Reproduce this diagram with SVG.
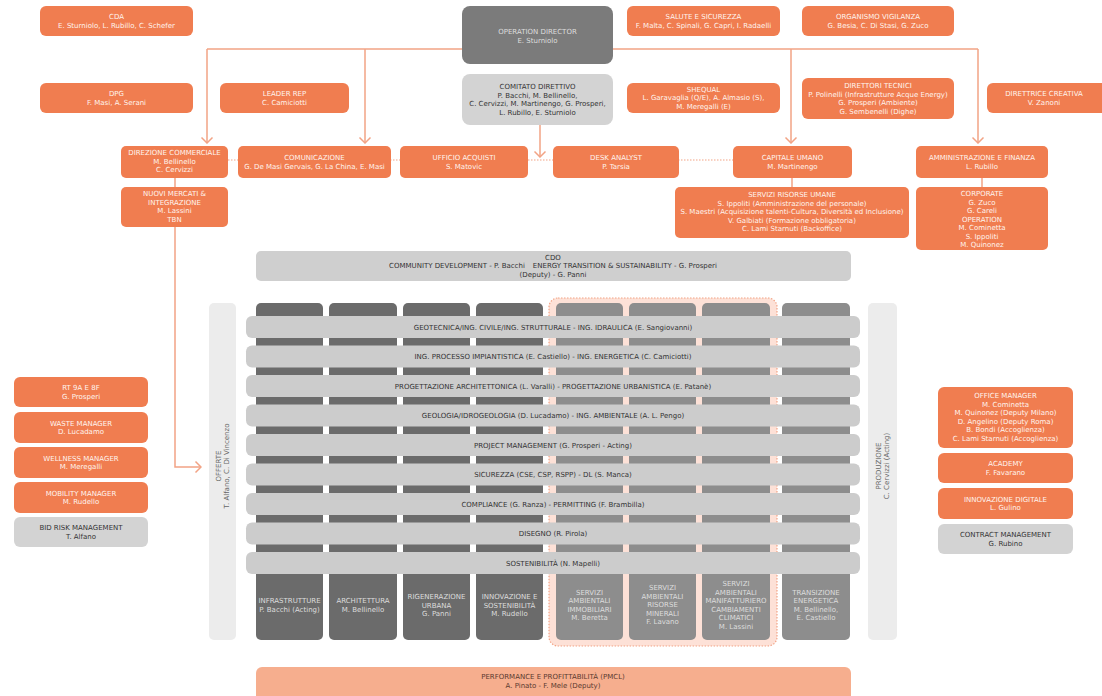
<svg xmlns="http://www.w3.org/2000/svg" width="1102" height="696" viewBox="0 0 1102 696">
<style>
.o{fill:#f07d50}
.g{fill:#d3d3d3}
.od{fill:#7b7b7b}
.bar{fill:#cccccc}
.cd{fill:#6b6b6b}
.cm{fill:#8d8d8d}
.side{fill:#ececec}
text{font-family:"DejaVu Sans",Verdana,sans-serif;font-size:7px;text-anchor:middle}
.w{fill:#fff4ee}
.k{fill:#333333}
.lg{fill:#dddddd}
.sd{fill:#666666}
.pm{fill:#5a3a2e}
.ln{stroke:#f2a385;stroke-width:1.5;fill:none}
.dot{stroke:#f2a385;stroke-width:1.2;stroke-dasharray:1.5 1.5;fill:none}
</style>
<defs>
<marker id="ah" viewBox="-7 -7 8 14" markerWidth="8" markerHeight="14" refX="0" refY="0" orient="auto" markerUnits="userSpaceOnUse">
<path d="M-5.5,-5.5 L0,0 L-5.5,5.5" fill="none" stroke="#f2a385" stroke-width="1.5"/>
</marker>
</defs>
<rect width="1102" height="696" fill="#ffffff"/>

<g id="connectors">
<path class="ln" d="M207,49 H978"/>
<path class="ln" d="M207,49 V143" marker-end="url(#ah)"/>
<path class="ln" d="M365,49 V143" marker-end="url(#ah)"/>
<path class="ln" d="M791,49 V143" marker-end="url(#ah)"/>
<path class="ln" d="M978,49 V143" marker-end="url(#ah)"/>
<path class="ln" d="M540,125 V157" marker-end="url(#ah)"/>
<path class="dot" d="M228,160 H733"/>
<path class="ln" d="M175,178 V467 H201" marker-end="url(#ah)"/>
<path class="ln" d="M792,178 V187"/>
<path class="ln" d="M982,178 V187"/>
</g>

<g id="cda"><rect class="o" x="40" y="6" width="153" height="30" rx="6"/><text class="w" x="116.5" y="19">CDA</text><text class="w" x="116.5" y="27.5">E. Sturniolo, L. Rubillo, C. Schefer</text></g>
<g id="operation-director"><rect class="od" x="462" y="6" width="151" height="58" rx="8"/><text class="lg" x="537.5" y="34">OPERATION DIRECTOR</text><text class="lg" x="537.5" y="42.5">E. Sturniolo</text></g>
<g id="salute"><rect class="o" x="627" y="6" width="153" height="30" rx="6"/><text class="w" x="703.5" y="19">SALUTE E SICUREZZA</text><text class="w" x="703.5" y="27.5">F. Malta, C. Spinali, G. Capri, I. Radaelli</text></g>
<g id="organismo"><rect class="o" x="802" y="6" width="152" height="30" rx="6"/><text class="w" x="878" y="19">ORGANISMO VIGILANZA</text><text class="w" x="878" y="27.5">G. Besia, C. Di Stasi, G. Zuco</text></g>
<g id="dpg"><rect class="o" x="40" y="83" width="153" height="30" rx="6"/><text class="w" x="116.5" y="96">DPG</text><text class="w" x="116.5" y="104.5">F. Masi, A. Serani</text></g>
<g id="leader-rep"><rect class="o" x="220" y="83" width="129" height="30" rx="6"/><text class="w" x="284.5" y="96">LEADER REP</text><text class="w" x="284.5" y="104.5">C. Camiciotti</text></g>
<g id="comitato"><rect class="g" x="462" y="74" width="151" height="51" rx="8"/><text class="k" x="537.5" y="89">COMITATO DIRETTIVO</text><text class="k" x="537.5" y="97.5">P. Bacchi, M. Bellinello,</text><text class="k" x="537.5" y="106">C. Cervizzi, M. Martinengo, G. Prosperi,</text><text class="k" x="537.5" y="114.5">L. Rubillo, E. Sturniolo</text></g>
<g id="shequal"><rect class="o" x="627" y="83" width="153" height="30" rx="6"/><text class="w" x="703.5" y="91.5">SHEQUAL</text><text class="w" x="703.5" y="100">L. Garavaglia (Q/E), A. Almasio (S),</text><text class="w" x="703.5" y="108.5">M. Meregalli (E)</text></g>
<g id="direttori-tecnici"><rect class="o" x="802" y="78" width="152" height="41" rx="6"/><text class="w" x="878" y="88">DIRETTORI TECNICI</text><text class="w" x="878" y="96.5">P. Polinelli (Infrastrutture Acque Energy)</text><text class="w" x="878" y="105">G. Prosperi (Ambiente)</text><text class="w" x="878" y="113.5">G. Sembenelli (Dighe)</text></g>
<g id="direttrice"><rect class="o" x="987" y="83" width="122" height="30" rx="6"/><text class="w" x="1044" y="96">DIRETTRICE CREATIVA</text><text class="w" x="1044" y="104.5">V. Zanoni</text></g>

<g id="direzione-commerciale"><rect class="o" x="121" y="146" width="107" height="32" rx="5"/><text class="w" x="174.5" y="155">DIREZIONE COMMERCIALE</text><text class="w" x="174.5" y="163.5">M. Bellinello</text><text class="w" x="174.5" y="172">C. Cervizzi</text></g>
<g id="comunicazione"><rect class="o" x="238" y="146" width="153" height="32" rx="5"/><text class="w" x="314.5" y="160">COMUNICAZIONE</text><text class="w" x="314.5" y="168.5">G. De Masi Gervais, G. La China, E. Masi</text></g>
<g id="ufficio-acquisti"><rect class="o" x="400" y="146" width="128" height="32" rx="5"/><text class="w" x="464" y="160">UFFICIO ACQUISTI</text><text class="w" x="464" y="168.5">S. Matovic</text></g>
<g id="desk-analyst"><rect class="o" x="553" y="146" width="126" height="32" rx="5"/><text class="w" x="616" y="160">DESK ANALYST</text><text class="w" x="616" y="168.5">P. Tarsia</text></g>
<g id="capitale-umano"><rect class="o" x="733" y="146" width="119" height="32" rx="5"/><text class="w" x="792.5" y="160">CAPITALE UMANO</text><text class="w" x="792.5" y="168.5">M. Martinengo</text></g>
<g id="amministrazione"><rect class="o" x="916" y="146" width="132" height="32" rx="5"/><text class="w" x="982" y="160">AMMINISTRAZIONE E FINANZA</text><text class="w" x="982" y="168.5">L. Rubillo</text></g>
<g id="nuovi-mercati"><rect class="o" x="121" y="187" width="107" height="40" rx="5"/><text class="w" x="174.5" y="196">NUOVI MERCATI &amp;</text><text class="w" x="174.5" y="204.5">INTEGRAZIONE</text><text class="w" x="174.5" y="213">M. Lassini</text><text class="w" x="174.5" y="221.5">TBN</text></g>
<g id="servizi-ru"><rect class="o" x="675" y="187" width="234" height="51" rx="5"/><text class="w" x="792" y="197">SERVIZI RISORSE UMANE</text><text class="w" x="792" y="205.5">S. Ippoliti (Amministrazione del personale)</text><text class="w" x="792" y="214">S. Maestri (Acquisizione talenti-Cultura, Diversità ed Inclusione)</text><text class="w" x="792" y="222.5">V. Galbiati (Formazione obbligatoria)</text><text class="w" x="792" y="231">C. Lami Starnuti (Backoffice)</text></g>
<g id="corporate"><rect class="o" x="916" y="187" width="132" height="63" rx="5"/><text class="w" x="982" y="196">CORPORATE</text><text class="w" x="982" y="204.5">G. Zuco</text><text class="w" x="982" y="213">G. Careli</text><text class="w" x="982" y="221.5">OPERATION</text><text class="w" x="982" y="230">M. Cominetta</text><text class="w" x="982" y="238.5">S. Ippoliti</text><text class="w" x="982" y="247">M. Quinonez</text></g>

<g id="cdo"><rect fill="#cfcfcf" x="256" y="251" width="595" height="30" rx="5"/><text class="k" x="553" y="259.5">CDO</text><text class="k" x="553" y="268">COMMUNITY DEVELOPMENT - P. Bacchi<tspan dx="8">ENERGY TRANSITION &amp; SUSTAINABILITY - G. Prosperi</tspan></text><text class="k" x="553" y="276.5">(Deputy) - G. Panni</text></g>

<g id="offerte"><rect class="side" x="209" y="303" width="27" height="337" rx="5"/><text class="sd" transform="translate(222,466) rotate(-90)" y="-1.5">OFFERTE</text><text class="sd" transform="translate(222,466) rotate(-90)" y="7">T. Alfano, C. Di Vincenzo</text></g>
<g id="produzione"><rect class="side" x="868" y="303" width="29" height="337" rx="5"/><text class="sd" transform="translate(882,466) rotate(-90)" y="-1.5">PRODUZIONE</text><text class="sd" transform="translate(882,466) rotate(-90)" y="7">C. Cervizzi (Acting)</text></g>

<g id="servizi-ambientali-group"><rect x="549" y="298" width="228" height="348" rx="9" fill="#fde1d7" stroke="#f2a385" stroke-width="1.2" stroke-dasharray="1.5 1.5"/></g>

<g id="col-infrastrutture"><rect class="cd" x="256" y="303" width="67" height="337" rx="5"/><text class="lg" x="289.5" y="603">INFRASTRUTTURE</text><text class="lg" x="289.5" y="611.5">P. Bacchi (Acting)</text></g>
<g id="col-architettura"><rect class="cd" x="329" y="303" width="68" height="337" rx="5"/><text class="lg" x="363" y="603">ARCHITETTURA</text><text class="lg" x="363" y="611.5">M. Bellinello</text></g>
<g id="col-rigenerazione"><rect class="cd" x="403" y="303" width="67" height="337" rx="5"/><text class="lg" x="436.5" y="599">RIGENERAZIONE</text><text class="lg" x="436.5" y="607.5">URBANA</text><text class="lg" x="436.5" y="616">G. Panni</text></g>
<g id="col-innovazione"><rect class="cd" x="476" y="303" width="67" height="337" rx="5"/><text class="lg" x="509.5" y="599">INNOVAZIONE E</text><text class="lg" x="509.5" y="607.5">SOSTENIBILITÀ</text><text class="lg" x="509.5" y="616">M. Rudello</text></g>
<g id="col-immobiliari"><rect class="cm" x="556" y="303" width="67" height="337" rx="5"/><text class="lg" x="589.5" y="594.5">SERVIZI</text><text class="lg" x="589.5" y="603">AMBIENTALI</text><text class="lg" x="589.5" y="611.5">IMMOBILIARI</text><text class="lg" x="589.5" y="620">M. Beretta</text></g>
<g id="col-minerali"><rect class="cm" x="629" y="303" width="67" height="337" rx="5"/><text class="lg" x="662.5" y="590">SERVIZI</text><text class="lg" x="662.5" y="598.5">AMBIENTALI</text><text class="lg" x="662.5" y="607">RISORSE</text><text class="lg" x="662.5" y="615.5">MINERALI</text><text class="lg" x="662.5" y="624">F. Lavano</text></g>
<g id="col-manifatturiero"><rect class="cm" x="702" y="303" width="68" height="337" rx="5"/><text class="lg" x="736" y="586">SERVIZI</text><text class="lg" x="736" y="594.5">AMBIENTALI</text><text class="lg" x="736" y="603">MANIFATTURIERO</text><text class="lg" x="736" y="611.5">CAMBIAMENTI</text><text class="lg" x="736" y="620">CLIMATICI</text><text class="lg" x="736" y="628.5">M. Lassini</text></g>
<g id="col-transizione"><rect class="cm" x="782" y="303" width="68" height="337" rx="5"/><text class="lg" x="816" y="594.5">TRANSIZIONE</text><text class="lg" x="816" y="603">ENERGETICA</text><text class="lg" x="816" y="611.5">M. Bellinello,</text><text class="lg" x="816" y="620">E. Castiello</text></g>

<g id="row-geotecnica"><rect class="bar" x="246" y="316" width="614" height="22" rx="6"/><text class="k" x="553" y="329.5">GEOTECNICA/ING. CIVILE/ING. STRUTTURALE - ING. IDRAULICA (E. Sangiovanni)</text></g>
<g id="row-processo"><rect class="bar" x="246" y="345.5" width="614" height="22" rx="6"/><text class="k" x="553" y="359">ING. PROCESSO IMPIANTISTICA (E. Castiello) - ING. ENERGETICA (C. Camiciotti)</text></g>
<g id="row-progettazione"><rect class="bar" x="246" y="375" width="614" height="22" rx="6"/><text class="k" x="553" y="388.5">PROGETTAZIONE ARCHITETTONICA (L. Varalli) - PROGETTAZIONE URBANISTICA (E. Patanè)</text></g>
<g id="row-geologia"><rect class="bar" x="246" y="404.5" width="614" height="22" rx="6"/><text class="k" x="553" y="418">GEOLOGIA/IDROGEOLOGIA (D. Lucadamo) - ING. AMBIENTALE (A. L. Pengo)</text></g>
<g id="row-pm"><rect class="bar" x="246" y="434" width="614" height="22" rx="6"/><text class="k" x="553" y="447.5">PROJECT MANAGEMENT (G. Prosperi - Acting)</text></g>
<g id="row-sicurezza"><rect class="bar" x="246" y="463.5" width="614" height="22" rx="6"/><text class="k" x="553" y="477">SICUREZZA (CSE, CSP, RSPP) - DL (S. Manca)</text></g>
<g id="row-compliance"><rect class="bar" x="246" y="493" width="614" height="22" rx="6"/><text class="k" x="553" y="506.5">COMPLIANCE (G. Ranza) - PERMITTING (F. Brambilla)</text></g>
<g id="row-disegno"><rect class="bar" x="246" y="522.5" width="614" height="22" rx="6"/><text class="k" x="553" y="536">DISEGNO (R. Pirola)</text></g>
<g id="row-sostenibilita"><rect class="bar" x="246" y="552" width="614" height="22" rx="6"/><text class="k" x="553" y="565.5">SOSTENIBILITÀ (N. Mapelli)</text></g>

<g id="pmcl"><rect fill="#f6ae8e" x="256" y="667" width="595" height="40" rx="6"/><text class="pm" x="553" y="679">PERFORMANCE E PROFITTABILITÀ (PMCL)</text><text class="pm" x="553" y="687.5">A. Pinato - F. Mele (Deputy)</text></g>

<g id="rt"><rect class="o" x="14" y="377" width="134" height="30" rx="6"/><text class="w" x="81" y="390">RT 9A E 8F</text><text class="w" x="81" y="398.5">G. Prosperi</text></g>
<g id="waste"><rect class="o" x="14" y="412" width="134" height="31" rx="6"/><text class="w" x="81" y="425.5">WASTE MANAGER</text><text class="w" x="81" y="434">D. Lucadamo</text></g>
<g id="wellness"><rect class="o" x="14" y="447" width="134" height="31" rx="6"/><text class="w" x="81" y="460.5">WELLNESS MANAGER</text><text class="w" x="81" y="469">M. Meregalli</text></g>
<g id="mobility"><rect class="o" x="14" y="482" width="134" height="31" rx="6"/><text class="w" x="81" y="495.5">MOBILITY MANAGER</text><text class="w" x="81" y="504">M. Rudello</text></g>
<g id="bid-risk"><rect class="g" x="14" y="517" width="134" height="30" rx="6"/><text class="k" x="81" y="530">BID RISK MANAGEMENT</text><text class="k" x="81" y="538.5">T. Alfano</text></g>

<g id="office-manager"><rect class="o" x="938" y="387" width="135" height="61" rx="6"/><text class="w" x="1005.5" y="398">OFFICE MANAGER</text><text class="w" x="1005.5" y="406.5">M. Cominetta</text><text class="w" x="1005.5" y="415">M. Quinonez (Deputy Milano)</text><text class="w" x="1005.5" y="423.5">D. Angelino (Deputy Roma)</text><text class="w" x="1005.5" y="432">B. Bondi (Accoglienza)</text><text class="w" x="1005.5" y="440.5">C. Lami Starnuti (Accoglienza)</text></g>
<g id="academy"><rect class="o" x="938" y="453" width="135" height="30" rx="6"/><text class="w" x="1005.5" y="466">ACADEMY</text><text class="w" x="1005.5" y="474.5">F. Favarano</text></g>
<g id="innovazione-digitale"><rect class="o" x="938" y="488" width="135" height="31" rx="6"/><text class="w" x="1005.5" y="501.5">INNOVAZIONE DIGITALE</text><text class="w" x="1005.5" y="510">L. Gulino</text></g>
<g id="contract"><rect class="g" x="938" y="524" width="135" height="30" rx="6"/><text class="k" x="1005.5" y="537">CONTRACT MANAGEMENT</text><text class="k" x="1005.5" y="545.5">G. Rubino</text></g>
</svg>
